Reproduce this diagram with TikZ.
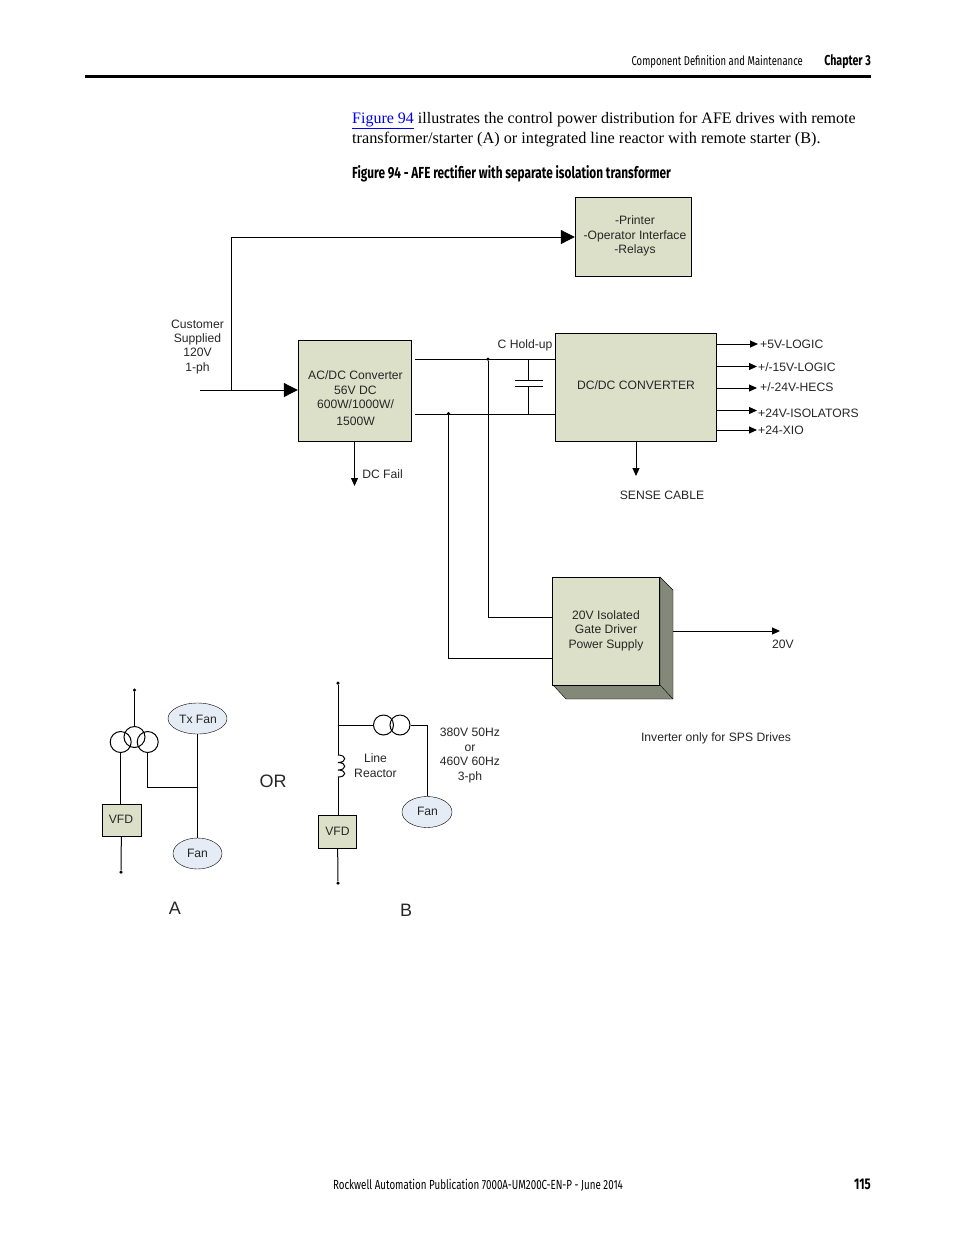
\documentclass[tikz,border=0pt]{standalone}
\usepackage{fontspec}
\setmainfont{Liberation Sans}
\newfontfamily\bodyfont{Liberation Serif}
\newfontfamily\condfont[FakeStretch=0.74]{Fira Sans}
\usetikzlibrary{arrows.meta,shapes.geometric}
\definecolor{my-box}{RGB}{221,224,200}
\definecolor{my-side}{RGB}{132,136,120}
\definecolor{my-fan}{RGB}{230,236,246}
\definecolor{my-link}{RGB}{0,0,238}
\tikzset{
  label text/.style={font=\fontsize{12.15}{14.6}\selectfont,align=center,inner sep=0pt,text=black!85},
  block/.style={draw,fill=my-box,minimum width=#1,label text,anchor=center},
  fan/.style={draw,ellipse,fill=my-fan,label text,inner sep=0pt},
  wire/.style={line width=1pt},
  tip/.style={wire,-{Triangle[length=8pt,width=7pt]}},
  bigtip/.style={wire,-{Triangle[length=14pt,width=14pt]}},
  dot/.style={circle,fill=black,inner sep=0pt,minimum size=3.5pt},
  coilring/.style={draw,circle,line width=1pt,minimum size=21pt,inner sep=0pt},
  page text/.style={inner sep=0pt,anchor=base west},
  big letter/.style={font=\fontsize{18}{20}\selectfont,inner sep=0pt,text=black!85},
}
\begin{document}
\begin{tikzpicture}[x=1pt,y=-1pt]
  \useasboundingbox (0,0) rectangle (954,1235);
  % page header and text
  \draw[line width=3pt] (85,76) -- (871,76);
  \node[page text,anchor=base east,font=\condfont\fontsize{12.85}{15}\selectfont] (head) at (803,65) {Component Definition and Maintenance};
  \node[page text,anchor=base east,font=\condfont\bfseries\fontsize{14.4}{15}\selectfont] (chap) at (871,65) {Chapter 3};
  \node[page text,font=\bodyfont\fontsize{16}{20}\selectfont] (line1) at (352,123) {\textcolor{my-link}{\underline{Figure 94}} illustrates the control power distribution for AFE drives with remote};
  \node[page text,font=\bodyfont\fontsize{16.25}{20}\selectfont] (line2) at (352,143) {transformer/starter (A) or integrated line reactor with remote starter (B).};
  \node[page text,font=\condfont\bfseries\fontsize{16}{18}\selectfont] (caption) at (352,178) {Figure 94 - AFE rectifier with separate isolation transformer};
  \node[page text,anchor=base,font=\condfont\fontsize{13.2}{15}\selectfont] (foot) at (478,1189) {Rockwell Automation Publication 7000A-UM200C-EN-P - June 2014};
  \node[page text,anchor=base east,font=\condfont\bfseries\fontsize{15.5}{15}\selectfont] (pageno) at (871,1189) {115};

  % main blocks
  \node[block=116pt,minimum height=79pt] (printer) at (633,236.5) {};
  \node[label text] (printertext) at (635,236) {-Printer\\-Operator Interface\\-Relays};
  \node[block=113pt,minimum height=101pt] (acdc) at (354.5,390.5) {};
  \node[label text] (acdctext) at (355.5,398) {AC/DC Converter\\56V DC\\600W/1000W/\\[2pt]1500W};
  \node[block=161pt,minimum height=108pt] (dcdc) at (635.5,387) {};
  \node[label text] (dcdctext) at (636,385.5) {DC/DC CONVERTER};
  \fill[my-side,draw=black] (660,577) -- (673,590) -- (673,699) -- (566,699) -- (553,685) -- (660,685) -- cycle;
  \draw (660,685) -- (673,699);
  \node[block=107pt,minimum height=108pt] (gate) at (606,631) {};
  \node[label text] (gatetext) at (606,630.5) {20V Isolated\\Gate Driver\\Power Supply};

  % customer feed
  \coordinate (feed) at (200,390);
  \coordinate (tee) at (231,390);
  \draw[bigtip] (feed) -- (acdc.west |- feed);
  \draw[bigtip] (tee) -- (231,237) -- (printer.west |- 0,237);
  \node[label text] (customer) at (197.5,347) {Customer\\[-1pt]Supplied\\120V\\1-ph};

  % DC bus
  \coordinate (busA) at (415,359);
  \coordinate (busB) at (415,414);
  \node[dot] (dotA) at (488,359) {};
  \node[dot] (dotB) at (448.5,413.5) {};
  \draw[wire] (busA) -- (dcdc.west |- busA);
  \draw[wire] (busB) -- (dcdc.west |- busB);
  \draw[wire] (dotA) -- (488,617) -- (gate.west |- 0,617);
  \draw[wire] (dotB) -- (448.5,658) -- (gate.west |- 0,658);
  \node[label text] (holdup) at (525,345) {C Hold-up};
  \draw[wire] (528,359) -- (528,380) (515,380) -- (543,380);
  \draw[wire] (515,386.5) -- (543,386.5) (528,386.5) -- (528,414);

  % outputs
  \draw[tip] (acdc.south) -- (354.5,486);
  \node[label text] (dcfail) at (382.5,474) {DC Fail};
  \draw[tip] (636,441) -- (636,476);
  \node[label text] (sense) at (662,495) {SENSE CABLE};
  \foreach \y/\e/\t/\lx/\ly in {344/758/{+5V-LOGIC}/760/344,366.5/757/{+/-15V-LOGIC}/758/367,388/757/{+/-24V-HECS}/760/387,410.5/757/{+24V-ISOLATORS}/758/413,430/757/{+24-XIO}/758/430}{
    \draw[tip] (dcdc.east |- 0,\y) -- (\e,\y);
    \node[label text,anchor=west] at (\lx,\ly) {\t};
  }
  \draw[tip] (673,631) -- (780,631);
  \node[label text] (twenty) at (783,644) {20V};
  \node[label text] (inverter) at (716,738) {Inverter only for SPS Drives};

  % variant A
  \node[dot] (topA) at (134.5,690) {};
  \node[coilring] (ringT) at (134.5,737) {};
  \node[coilring] (ringL) at (120.7,742) {};
  \node[coilring] (ringR) at (147.7,742) {};
  \node[block=39pt,minimum height=32pt] (vfdA) at (121.5,820) {};
  \node[label text] (vfdAtext) at (121,819) {VFD};
  \node[dot] (botA) at (121,872) {};
  \node[fan,minimum width=59pt,minimum height=31pt] (txfan) at (197.5,718.5) {};
  \node[label text] (txfantext) at (198,719) {Tx Fan};
  \node[fan,minimum width=49pt,minimum height=31pt] (fanA) at (197.5,853.5) {Fan};
  \draw[wire] (topA) -- (ringT);
  \draw[wire] (ringL) -- (ringL |- vfdA.north);
  \draw[wire] (vfdA) -- (botA);
  \draw[wire] (txfan) -- (fanA);
  \draw[wire] (ringR) -- (147.7,787) -- (197.5,787);
  \node[big letter] (orlabel) at (273,781) {OR};
  \node[big letter] (labelA) at (175,908) {A};
  % variant B
  \node[dot] (topB) at (338,683) {};
  \node[block=38pt,minimum height=33pt] (vfdB) at (337.5,831.5) {VFD};
  \node[dot] (botB) at (338,883) {};
  \coordinate (teeB) at (338,725);
  \node[coilring,minimum size=20pt] (ringC) at (383.5,725) {};
  \node[coilring,minimum size=20pt] (ringD) at (400,725) {};
  \node[fan,minimum width=50pt,minimum height=31pt] (fanB) at (427,812) {};
  \node[label text] (fanBtext) at (427.5,811) {Fan};
  \draw[wire] (topB) -- (338,755);
  \draw[wire] (338,755) .. controls (347,755) and (347,762.5) .. (338,762.5)
    (338,762.5) .. controls (347,762.5) and (347,770) .. (338,770)
    (338,770) .. controls (347,770) and (347,777) .. (338,777);
  \draw[wire] (338,777) -- (338,815);
  \draw[wire] (vfdB) -- (botB);
  \draw[wire] (teeB) -- (ringC);
  \draw[wire] (ringD) -- (427,725) -- (fanB.north);
  \node[label text] (reactor) at (375.5,765.5) {Line\\Reactor};
  \node[label text] (supply) at (470,755.5) {380V 50Hz\\or\\460V 60Hz\\3-ph};
  \node[big letter] (labelB) at (406,910) {B};
\end{tikzpicture}
\end{document}
